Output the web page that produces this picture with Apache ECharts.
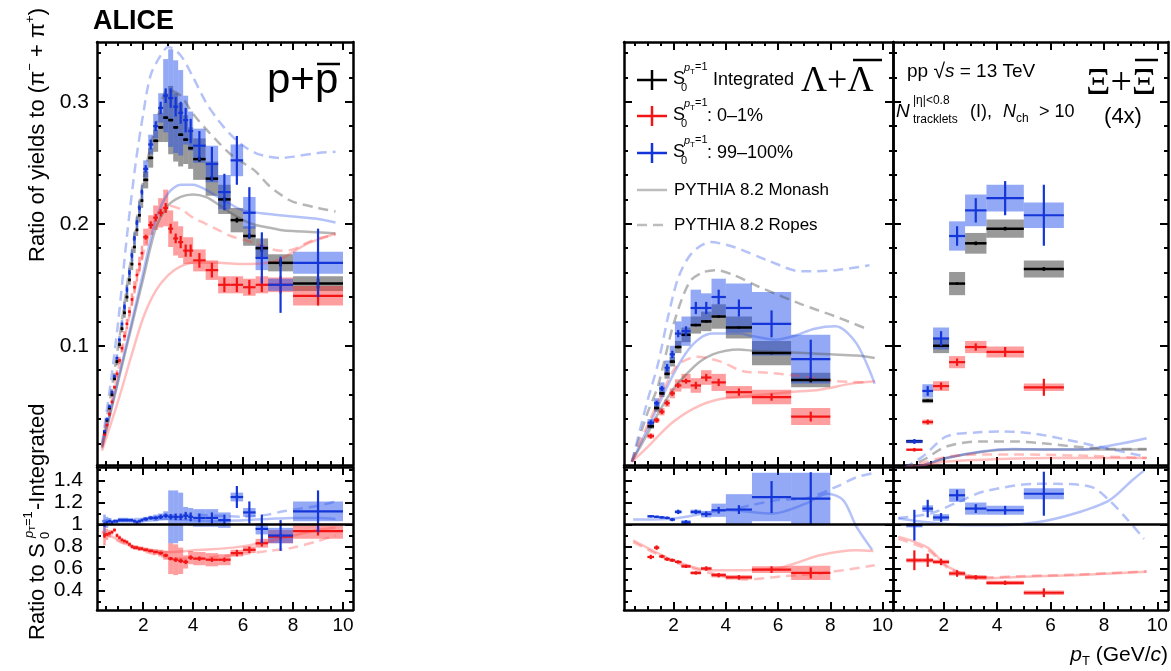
<!DOCTYPE html>
<html><head><meta charset="utf-8">
<script src="https://cdn.jsdelivr.net/npm/echarts@6/dist/echarts.min.js"></script>
<style>html,body{margin:0;padding:0;background:#fff}#c{width:1171px;height:671px}</style>
</head><body><div id="c"></div>
<script>
// ================= DATA =================
// ---- p+pbar / (pi- + pi+) ----
const ppEdges = [0.4,0.5,0.6,0.7,0.8,0.9,1.0,1.1,1.2,1.3,1.4,1.5,1.6,1.7,1.8,1.9,2.0,2.2,2.4,2.6,2.8,3.0,3.2,3.4,3.6,3.8,4.0,4.5,5.0,5.5,6.0,6.5,7.0,8.0,10.0];
const ppInt  = [0.029,0.039,0.049,0.060,0.073,0.087,0.101,0.114,0.127,0.140,0.154,0.167,0.181,0.195,0.207,0.219,0.236,0.254,0.268,0.279,0.287,0.285,0.279,0.273,0.269,0.262,0.253,0.237,0.220,0.203,0.190,0.180,0.168,0.151];
const ppHigh = [0.030,0.040,0.050,0.062,0.075,0.090,0.105,0.118,0.132,0.146,0.160,0.174,0.188,0.201,0.213,0.226,0.245,0.265,0.280,0.295,0.305,0.303,0.296,0.291,0.285,0.276,0.264,0.249,0.226,0.252,0.209,0.172,0.150,0.168];
const ppLow  = [0.027,0.035,0.044,0.054,0.066,0.077,0.088,0.098,0.108,0.118,0.128,0.138,0.148,0.158,0.167,0.176,0.189,0.199,0.205,0.209,0.213,0.196,0.188,0.185,0.178,0.178,0.170,0.162,0.150,0.150,0.148,0.150,0.150,0.141];
const ppIntStat  = [0.001,0.001,0.001,0.001,0.001,0.001,0.001,0.001,0.001,0.001,0.001,0.001,0.001,0.001,0.001,0.001,0.001,0.001,0.001,0.001,0.001,0.001,0.001,0.001,0.001,0.001,0.002,0.002,0.002,0.002,0.002,0.003,0.003,0.004];
const ppHighStat = [0.001,0.001,0.001,0.001,0.001,0.001,0.001,0.001,0.002,0.002,0.002,0.002,0.002,0.002,0.002,0.002,0.003,0.004,0.004,0.005,0.006,0.008,0.008,0.009,0.010,0.010,0.012,0.014,0.015,0.020,0.021,0.021,0.023,0.028];
const ppLowStat  = [0.001,0.001,0.001,0.001,0.001,0.001,0.001,0.001,0.001,0.001,0.001,0.001,0.001,0.001,0.001,0.001,0.002,0.003,0.003,0.003,0.004,0.004,0.004,0.005,0.005,0.005,0.006,0.006,0.006,0.006,0.006,0.006,0.007,0.008];
const ppIntSys  = [0.001,0.001,0.002,0.002,0.002,0.003,0.003,0.003,0.004,0.004,0.004,0.005,0.005,0.005,0.006,0.006,0.007,0.008,0.009,0.012,0.020,0.028,0.028,0.026,0.020,0.017,0.017,0.014,0.012,0.010,0.008,0.008,0.007,0.006];
const ppHighSys = [0.001,0.001,0.002,0.002,0.002,0.003,0.003,0.003,0.004,0.004,0.004,0.005,0.005,0.005,0.006,0.006,0.007,0.008,0.010,0.012,0.030,0.040,0.038,0.035,0.020,0.016,0.014,0.015,0.014,0.013,0.013,0.010,0.005,0.009];
const ppLowSys  = [0.001,0.001,0.002,0.002,0.002,0.003,0.003,0.003,0.004,0.004,0.004,0.005,0.005,0.005,0.006,0.006,0.007,0.008,0.010,0.012,0.015,0.015,0.014,0.013,0.011,0.011,0.009,0.008,0.007,0.007,0.007,0.007,0.006,0.008];
// ratios to integrated
const ppHighR = [1.00,1.02,1.03,1.02,1.03,1.03,1.04,1.04,1.04,1.04,1.04,1.04,1.03,1.02,1.03,1.04,1.05,1.06,1.06,1.07,1.08,1.07,1.07,1.07,1.08,1.07,1.06,1.06,1.04,1.25,1.11,0.96,0.90,1.12];
const ppLowR  = [0.90,0.91,0.92,0.93,0.95,0.90,0.88,0.86,0.85,0.84,0.82,0.80,0.79,0.79,0.78,0.78,0.77,0.76,0.75,0.74,0.72,0.69,0.68,0.67,0.66,0.70,0.69,0.68,0.68,0.74,0.77,0.83,0.89,0.94];
const ppHighRStat = [0.02,0.01,0.01,0.01,0.01,0.01,0.01,0.01,0.01,0.01,0.01,0.01,0.01,0.01,0.01,0.01,0.015,0.015,0.015,0.02,0.02,0.025,0.03,0.03,0.035,0.04,0.04,0.05,0.05,0.10,0.10,0.13,0.14,0.19];
const ppLowRStat  = [0.02,0.01,0.01,0.01,0.01,0.01,0.01,0.01,0.01,0.01,0.01,0.01,0.01,0.01,0.01,0.01,0.01,0.01,0.01,0.015,0.015,0.015,0.02,0.02,0.02,0.02,0.02,0.02,0.02,0.03,0.03,0.03,0.03,0.04];
const ppHighRSys  = [0.09,0.05,0.03,0.02,0.02,0.02,0.02,0.02,0.02,0.02,0.02,0.02,0.02,0.02,0.02,0.02,0.02,0.02,0.03,0.03,0.04,0.24,0.24,0.22,0.08,0.08,0.08,0.08,0.07,0.04,0.04,0.05,0.07,0.09];
const ppLowRSys   = [0.09,0.05,0.03,0.02,0.02,0.02,0.02,0.02,0.02,0.02,0.02,0.02,0.02,0.02,0.02,0.02,0.02,0.02,0.025,0.03,0.04,0.14,0.14,0.12,0.06,0.06,0.06,0.06,0.05,0.03,0.03,0.04,0.06,0.07];
// PYTHIA curves [pT, value]
const ppMonInt  = [[0.35,0.016],[1,0.071],[1.5,0.113],[2,0.155],[2.5,0.196],[3,0.215],[3.5,0.222],[4,0.224],[4.5,0.222],[5,0.216],[5.5,0.209],[6,0.203],[6.5,0.199],[7,0.197],[7.5,0.195],[8,0.194],[9,0.193],[9.7,0.192]];
const ppMonHigh = [[0.35,0.017],[1,0.073],[1.5,0.116],[2,0.16],[2.5,0.203],[3,0.225],[3.5,0.232],[4,0.232],[4.5,0.228],[5,0.222],[5.5,0.216],[6,0.211],[7,0.208],[8,0.206],[9,0.204],[9.7,0.201]];
const ppMonLow  = [[0.35,0.014],[1,0.055],[1.5,0.09],[2,0.123],[2.5,0.145],[3,0.158],[3.5,0.165],[4,0.168],[5,0.168],[6,0.167],[7,0.168],[7.5,0.171],[8,0.177],[8.5,0.183],[9,0.187],[9.7,0.192]];
const ppRopInt  = [[0.35,0.018],[0.7,0.06],[1,0.1],[1.5,0.17],[2,0.235],[2.5,0.28],[3,0.31],[3.5,0.305],[4,0.29],[4.5,0.278],[5,0.267],[5.5,0.257],[6,0.25],[6.5,0.243],[7,0.232],[7.5,0.224],[8,0.218],[9,0.213],[9.7,0.21]];
const ppRopHigh = [[0.35,0.02],[0.7,0.07],[1,0.12],[1.35,0.19],[1.7,0.25],[2,0.29],[2.3,0.322],[2.7,0.338],[3,0.345],[3.5,0.338],[4,0.32],[4.5,0.3],[5,0.285],[5.5,0.273],[6,0.264],[6.5,0.258],[7,0.255],[7.5,0.254],[8,0.255],[9,0.258],[9.7,0.259]];
const ppRopLow  = [[0.35,0.017],[0.7,0.05],[1,0.08],[1.5,0.13],[2,0.175],[2.5,0.205],[3,0.215],[3.5,0.212],[4,0.205],[4.5,0.2],[5,0.195],[5.5,0.19],[6,0.187],[6.5,0.184],[7,0.18],[7.5,0.178],[8,0.179],[8.5,0.184],[9,0.188],[9.7,0.191]];
const ppMonHighR = [[0.35,1.03],[1,1.03],[2,1.03],[3,1.05],[4,1.04],[5,1.03],[6,1.04],[7,1.05],[8,1.06],[9,1.06],[9.7,1.05]];
const ppMonLowR  = [[0.35,0.94],[1,0.86],[1.6,0.8],[3,0.75],[4.3,0.77],[5.6,0.79],[6.7,0.83],[8,0.9],[9,0.95],[9.7,0.97]];
const ppRopHighR = [[0.35,1.03],[1,1.05],[2,1.05],[3,1.08],[4,1.09],[5,1.08],[6,1.07],[7,1.09],[7.6,1.12],[9,1.17],[9.7,1.21]];
const ppRopLowR  = [[0.35,0.93],[1,0.85],[2,0.76],[3,0.7],[4,0.69],[5,0.71],[6,0.73],[7,0.76],[8,0.79],[9,0.85],[9.7,0.9]];

// ---- Lambda + Lambdabar ----
const lamEdges = [1.0,1.25,1.45,1.65,1.85,2.05,2.3,2.65,3.05,3.45,4.0,5.0,6.5,8.0];
const lamInt  = [0.034,0.049,0.061,0.077,0.087,0.099,0.109,0.117,0.120,0.124,0.115,0.094,0.072];
const lamHigh = [0.037,0.053,0.065,0.082,0.093,0.110,0.112,0.131,0.131,0.140,0.131,0.118,0.089];
const lamLow  = [0.026,0.039,0.046,0.053,0.061,0.0675,0.071,0.0675,0.074,0.070,0.062,0.058,0.042];
const lamIntStat  = [0.001,0.001,0.001,0.001,0.001,0.001,0.001,0.001,0.001,0.001,0.001,0.001,0.002];
const lamHighStat = [0.002,0.002,0.002,0.003,0.003,0.003,0.004,0.005,0.005,0.006,0.007,0.011,0.016];
const lamLowStat  = [0.002,0.002,0.002,0.002,0.002,0.002,0.002,0.003,0.003,0.003,0.003,0.003,0.004];
const lamIntSys  = [0.002,0.003,0.003,0.004,0.004,0.005,0.006,0.007,0.008,0.010,0.009,0.010,0.006];
const lamHighSys = [0.003,0.004,0.005,0.006,0.007,0.010,0.012,0.015,0.012,0.015,0.020,0.026,0.020];
const lamLowSys  = [0.002,0.002,0.003,0.003,0.004,0.005,0.006,0.006,0.006,0.007,0.005,0.006,0.007];
const lamHighR = [1.075,1.07,1.065,1.06,1.045,1.115,1.02,1.115,1.094,1.13,1.136,1.25,1.236];
const lamLowR  = [0.705,0.79,0.71,0.685,0.675,0.66,0.62,0.56,0.60,0.54,0.52,0.59,0.56];
const lamHighRStat = [0.01,0.01,0.01,0.012,0.015,0.02,0.02,0.02,0.025,0.03,0.04,0.145,0.24];
const lamLowRStat  = [0.02,0.02,0.015,0.015,0.015,0.015,0.015,0.015,0.02,0.02,0.02,0.03,0.05];
const lamHighRSys  = [0.01,0.01,0.01,0.01,0.01,0.015,0.02,0.02,0.03,0.06,0.14,0.22,0.235];
const lamLowRSys   = [0.01,0.01,0.01,0.01,0.01,0.01,0.015,0.015,0.015,0.02,0.02,0.03,0.065];
const lamMonInt  = [[0.4,0.005],[1,0.028],[1.5,0.048],[2,0.065],[2.5,0.077],[3,0.087],[3.5,0.093],[4,0.096],[4.5,0.097],[5,0.096],[6,0.095],[7,0.094],[8,0.093],[9,0.092],[9.7,0.09]];
const lamMonHigh = [[0.4,0.005],[1,0.032],[1.5,0.055],[2,0.077],[2.5,0.095],[3,0.106],[3.5,0.11],[4,0.11],[4.5,0.11],[5,0.108],[5.9,0.105],[6.6,0.108],[7.4,0.114],[8.2,0.116],[9,0.102],[9.7,0.069]];
const lamMonLow  = [[0.4,0.005],[1,0.017],[1.5,0.028],[2,0.038],[2.8,0.049],[3.7,0.056],[5,0.059],[6.4,0.062],[7.6,0.064],[8.8,0.069],[9.7,0.071]];
const lamRopInt  = [[0.4,0.005],[1,0.045],[1.4,0.067],[2,0.118],[2.6,0.152],[3.1,0.16],[3.6,0.162],[4.3,0.158],[5.2,0.149],[6.9,0.134],[8.2,0.124],[9.5,0.113]];
const lamRopHigh = [[0.4,0.005],[1,0.055],[1.4,0.085],[1.8,0.125],[2.2,0.157],[2.7,0.176],[3.4,0.185],[4.3,0.181],[5.6,0.17],[6.9,0.161],[8.2,0.162],[9.5,0.166]];
const lamRopLow  = [[0.4,0.005],[1,0.035],[1.5,0.058],[2.1,0.083],[2.9,0.091],[3.8,0.087],[4.7,0.079],[5.6,0.078],[6.9,0.075],[8.2,0.071],[9.5,0.07]];
const lamMonHighR = [[0.45,1.045],[2,1.055],[4.1,1.13],[5.8,1.1],[7.06,1.19],[7.9,1.28],[8.5,1.22],[9.0,0.98],[9.6,0.77]];
const lamRopHighR = [[4.5,1.15],[5.9,1.22],[7.1,1.24],[8.2,1.34],[9.0,1.43],[9.7,1.47]];
const lamMonLowR  = [[0.45,0.857],[2,0.675],[3.4,0.585],[4.8,0.585],[6.2,0.615],[7.6,0.72],[9.0,0.766],[9.65,0.76]];
const lamRopLowR  = [[0.45,0.84],[2,0.66],[3.4,0.56],[4.8,0.5],[6.2,0.53],[7.6,0.555],[9.7,0.63]];

// ---- Xi + Xibar (x4) ----
const xiEdges = [0.6,1.2,1.6,2.2,2.8,3.6,5.0,6.5];
const xiInt  = [0.0218,0.055,0.100,0.151,0.184,0.196,0.163];
const xiHigh = [0.0216,0.063,0.106,0.190,0.211,0.221,0.207];
const xiLow  = [0.0148,0.0375,0.067,0.0866,0.099,0.095,0.066];
const xiIntStat  = [0.0008,0.001,0.001,0.001,0.0015,0.0015,0.0015];
const xiHighStat = [0.002,0.004,0.006,0.008,0.010,0.014,0.025];
const xiLowStat  = [0.0015,0.002,0.003,0.003,0.003,0.004,0.007];
const xiIntSys  = [0.001,0.002,0.006,0.0095,0.0085,0.0075,0.007];
const xiHighSys = [0.0015,0.0055,0.009,0.012,0.013,0.011,0.0105];
const xiLowSys  = [0.001,0.002,0.004,0.005,0.005,0.0045,0.003];
const xiHighR = [0.994,1.145,1.064,1.266,1.145,1.13,1.28];
const xiLowR  = [0.675,0.675,0.66,0.555,0.52,0.47,0.38];
const xiHighRStat = [0.14,0.08,0.04,0.05,0.04,0.04,0.2];
const xiLowRStat  = [0.09,0.06,0.03,0.03,0.02,0.02,0.04];
const xiHighRSys  = [0.02,0.03,0.03,0.06,0.055,0.04,0.05];
const xiLowRSys   = [0.02,0.02,0.02,0.02,0.02,0.02,0.02];
const xiMonInt  = [[0.5,0.0],[1.2,0.002],[2.1,0.008],[3.4,0.013],[4.6,0.015],[5.9,0.015],[7.1,0.015],[8.4,0.015],[9.6,0.015]];
const xiMonHigh = [[0.5,0.0],[1.2,0.002],[2.1,0.008],[3.4,0.0134],[4.6,0.0154],[5.9,0.015],[7.1,0.015],[8.4,0.0189],[9.6,0.0243]];
const xiMonLow  = [[0.5,0.0],[1.2,0.002],[2.1,0.0052],[3.4,0.0066],[5.9,0.008],[9.6,0.008]];
const xiRopInt  = [[0.5,0.0],[1.2,0.006],[2.1,0.0175],[3.4,0.0216],[4.6,0.0216],[5.9,0.0197],[7.1,0.017],[8.4,0.0154],[9.6,0.0154]];
const xiRopHigh = [[0.5,0.0],[1.2,0.009],[2.1,0.0257],[3.2,0.029],[4.2,0.0298],[5.4,0.028],[6.6,0.023],[8.1,0.016],[9.6,0.009]];
const xiRopLow  = [[0.5,0.0],[1.2,0.004],[2.1,0.009],[3.4,0.011],[4.6,0.011],[7.1,0.010],[9.6,0.008]];
const xiMonHighR = [[0.3,1.055],[1.4,1.02],[2.8,0.994],[4.1,0.994],[5.5,1.02],[6.9,1.1],[8.2,1.22],[9.05,1.4],[9.5,1.49]];
const xiRopHighR = [[0.3,1.06],[1.5,1.1],[2.5,1.2],[3.5,1.3],[5.5,1.37],[6.2,1.37],[7.55,1.34],[8.2,1.22],[8.9,1.04],[9.5,0.87]];
const xiMonLowR  = [[0.3,0.89],[1.4,0.79],[2.2,0.61],[3.5,0.51],[4.8,0.524],[6.9,0.54],[9.6,0.57]];
const xiRopLowR  = [[0.3,0.87],[1.4,0.77],[2.2,0.6],[3.5,0.52],[4.8,0.53],[6.9,0.545],[9.6,0.575]];

// axis tick values
const xMajorTicks = [2,4,6,8,10];
const yTopMajorTicks = [0.1,0.2,0.3];
const yBotMajorTicks = [0.4,0.6,0.8,1,1.2,1.4];

// ================= STYLE / LAYOUT =================
const F = 'Liberation Sans', FS = 'Liberation Serif';
const C = {
  blue:'#1436d8', red:'#f31515', black:'#000',
  blueBox:'rgba(30,75,235,0.48)', redBox:'rgba(255,40,40,0.45)', greyBox:'rgba(0,0,0,0.40)',
  blueLine:'rgba(40,80,235,0.35)', redLine:'rgba(255,60,60,0.33)', greyLine:'rgba(80,80,80,0.42)'
};
function range(a,b,s){const r=[];for(let v=a;v<=b+1e-9;v+=s)r.push(+v.toFixed(4));return r;}
const grids = [
  {left:97, top:42, width:256, height:423},
  {left:97, top:467, width:256, height:143},
  {left:624, top:42, width:269, height:423},
  {left:624, top:467, width:269, height:143},
  {left:893, top:42, width:275, height:423},
  {left:893, top:467, width:275, height:143}
];
const xr = [[0.15,10.4],[0.15,10.4],[0.1,10.4],[0.1,10.4],[0.1,10.4],[0.1,10.4]];
const yTop = [0.0023,0.349], yBot = [0.223,1.523];
const xMinor = range(0.5,10,0.5);
const yTopMinor = range(0.02,0.34,0.02);
const yBotMinor = range(0.3,1.5,0.1);

const xAxes=[], yAxes=[];
grids.forEach((g,i)=>{
  const bot = i%2===1;
  const yr = bot?yBot:yTop;
  const yMaj = bot?yBotMajorTicks:yTopMajorTicks, yMin = bot?yBotMinor:yTopMinor;
  ['bottom','top'].forEach(pos=>{[true,false].forEach(maj=>{
    xAxes.push({type:'value',gridIndex:i,position:pos,min:xr[i][0],max:xr[i][1],
      axisLine:{show:maj,onZero:false,lineStyle:{color:'#000',width:2.5}},
      axisTick:{show:true,inside:true,length:maj?8:4,customValues:maj?xMajorTicks:xMinor,lineStyle:{color:'#000',width:2}},
      axisLabel:{show:maj&&pos==='bottom'&&bot,customValues:xMajorTicks,fontSize:19,fontFamily:F,color:'#000',margin:6,hideOverlap:false},
      splitLine:{show:false}});
  });});
  ['left','right'].forEach(pos=>{[true,false].forEach(maj=>{
    yAxes.push({type:'value',gridIndex:i,position:pos,min:yr[0],max:yr[1],
      axisLine:{show:maj,onZero:false,lineStyle:{color:'#000',width:2.5}},
      axisTick:{show:true,inside:true,length:maj?8:4,customValues:maj?yMaj:yMin,lineStyle:{color:'#000',width:2}},
      axisLabel:{show:maj&&pos==='left'&&i<2,customValues:yMaj,fontSize:21,fontFamily:F,color:'#000',margin:bot?14:8,hideOverlap:false,
        formatter:v=>Math.abs(v-1)<1e-9?'1':v.toFixed(1)},
      splitLine:{show:false}});
  });});
});

function rows(edges, vals, errs){return vals.map((v,i)=>[edges[i],edges[i+1],v,errs[i]]);}
function boxS(g, edges, vals, sys, fill){
  return {type:'custom',xAxisIndex:4*g,yAxisIndex:4*g,data:rows(edges,vals,sys),encode:{x:[0,1],y:2},clip:true,z:2,silent:true,
    renderItem:(p,api)=>{const a=api.coord([api.value(0),api.value(2)+api.value(3)]);const b=api.coord([api.value(1),api.value(2)-api.value(3)]);
      return {type:'rect',shape:{x:a[0],y:a[1],width:b[0]-a[0],height:b[1]-a[1]},style:{fill:fill}};}};
}
function crossS(g, edges, vals, stat, color, lw){
  return {type:'custom',xAxisIndex:4*g,yAxisIndex:4*g,data:rows(edges,vals,stat),encode:{x:[0,1],y:2},clip:true,z:4,silent:true,
    renderItem:(p,api)=>{const lo=api.value(0),hi=api.value(1),v=api.value(2),e=api.value(3),xc=(lo+hi)/2;
      const L=api.coord([lo,v]),R=api.coord([hi,v]),T=api.coord([xc,v+e]),B=api.coord([xc,v-e]);
      return {type:'group',children:[
        {type:'line',shape:{x1:L[0],y1:L[1],x2:R[0],y2:R[1]},style:{stroke:color,lineWidth:lw}},
        {type:'line',shape:{x1:T[0],y1:T[1],x2:B[0],y2:B[1]},style:{stroke:color,lineWidth:lw}}]};}};
}
function curveS(g, pts, color, dashed, extra){
  return Object.assign({type:'line',xAxisIndex:4*g,yAxisIndex:4*g,data:pts,smooth:0.3,showSymbol:false,symbol:'none',silent:true,z:3,
    lineStyle:{color:color,width:2.5,type:dashed?[10,6]:'solid'}},extra||{});
}
const oneLine = {markLine:{silent:true,symbol:'none',animation:false,label:{show:false},lineStyle:{color:'#000',width:2.5,type:'solid'},data:[{yAxis:1}]}};

const series = [
  // p+pbar top
  boxS(0,ppEdges,ppInt,ppIntSys,C.greyBox), boxS(0,ppEdges,ppLow,ppLowSys,C.redBox), boxS(0,ppEdges,ppHigh,ppHighSys,C.blueBox),
  curveS(0,ppMonInt,C.greyLine,false), curveS(0,ppMonHigh,C.blueLine,false), curveS(0,ppMonLow,C.redLine,false),
  curveS(0,ppRopInt,C.greyLine,true), curveS(0,ppRopHigh,C.blueLine,true), curveS(0,ppRopLow,C.redLine,true),
  crossS(0,ppEdges,ppInt,ppIntStat,C.black,2.5), crossS(0,ppEdges,ppLow,ppLowStat,C.red,2.2), crossS(0,ppEdges,ppHigh,ppHighStat,C.blue,2.2),
  // p+pbar ratio
  boxS(1,ppEdges,ppLowR,ppLowRSys,C.redBox), boxS(1,ppEdges,ppHighR,ppHighRSys,C.blueBox),
  curveS(1,ppMonHighR,C.blueLine,false,oneLine), curveS(1,ppMonLowR,C.redLine,false), curveS(1,ppRopHighR,C.blueLine,true), curveS(1,ppRopLowR,C.redLine,true),
  crossS(1,ppEdges,ppLowR,ppLowRStat,C.red,2.2), crossS(1,ppEdges,ppHighR,ppHighRStat,C.blue,2.2),
  // Lambda top
  boxS(2,lamEdges,lamInt,lamIntSys,C.greyBox), boxS(2,lamEdges,lamLow,lamLowSys,C.redBox), boxS(2,lamEdges,lamHigh,lamHighSys,C.blueBox),
  curveS(2,lamMonInt,C.greyLine,false), curveS(2,lamMonHigh,C.blueLine,false), curveS(2,lamMonLow,C.redLine,false),
  curveS(2,lamRopInt,C.greyLine,true), curveS(2,lamRopHigh,C.blueLine,true), curveS(2,lamRopLow,C.redLine,true),
  crossS(2,lamEdges,lamInt,lamIntStat,C.black,2.5), crossS(2,lamEdges,lamLow,lamLowStat,C.red,2.2), crossS(2,lamEdges,lamHigh,lamHighStat,C.blue,2.2),
  // Lambda ratio
  boxS(3,lamEdges,lamLowR,lamLowRSys,C.redBox), boxS(3,lamEdges,lamHighR,lamHighRSys,C.blueBox),
  curveS(3,lamMonHighR,C.blueLine,false,oneLine), curveS(3,lamMonLowR,C.redLine,false), curveS(3,lamRopHighR,C.blueLine,true), curveS(3,lamRopLowR,C.redLine,true),
  crossS(3,lamEdges,lamLowR,lamLowRStat,C.red,2.2), crossS(3,lamEdges,lamHighR,lamHighRStat,C.blue,2.2),
  // Xi top
  boxS(4,xiEdges,xiInt,xiIntSys,C.greyBox), boxS(4,xiEdges,xiLow,xiLowSys,C.redBox), boxS(4,xiEdges,xiHigh,xiHighSys,C.blueBox),
  curveS(4,xiMonInt,C.greyLine,false), curveS(4,xiMonHigh,C.blueLine,false), curveS(4,xiMonLow,C.redLine,false),
  curveS(4,xiRopInt,C.greyLine,true), curveS(4,xiRopHigh,C.blueLine,true), curveS(4,xiRopLow,C.redLine,true),
  crossS(4,xiEdges,xiInt,xiIntStat,C.black,2.5), crossS(4,xiEdges,xiLow,xiLowStat,C.red,2.2), crossS(4,xiEdges,xiHigh,xiHighStat,C.blue,2.2),
  // Xi ratio
  boxS(5,xiEdges,xiLowR,xiLowRSys,C.redBox), boxS(5,xiEdges,xiHighR,xiHighRSys,C.blueBox),
  curveS(5,xiMonHighR,C.blueLine,false,oneLine), curveS(5,xiMonLowR,C.redLine,false), curveS(5,xiRopHighR,C.blueLine,true), curveS(5,xiRopLowR,C.redLine,true),
  crossS(5,xiEdges,xiLowR,xiLowRStat,C.red,2.2), crossS(5,xiEdges,xiHighR,xiHighRStat,C.blue,2.2)
];

// ================= TEXT / LEGEND =================
function T(x,y,text,size,opt){return {type:'text',x:x,y:y,silent:true,z:10,style:Object.assign({text:text,fontSize:size,fontFamily:F,fill:'#000',
  textAlign:'left',textVerticalAlign:'middle',align:'left',verticalAlign:'middle'},opt||{})};}
function L(x1,y1,x2,y2,color,w,dash){return {type:'line',silent:true,z:10,shape:{x1:x1,y1:y1,x2:x2,y2:y2},style:{stroke:color,lineWidth:w,lineDash:dash||null}};}
const graphic = [
  T(93,22,'ALICE',27,{fontWeight:'bold'}),
  T(267,81,'p+p',42), L(317,64,340,64,'#000',2.5),
  T(801,82,'Λ+Λ',36,{fontFamily:FS}), L(853,60,882,60,'#000',2.5),
  T(1086,84,'Ξ+Ξ',38,{fontFamily:FS}), L(1135,60,1158,60,'#000',2.5),
  T(1123,117,'(4x)',22,{textAlign:'center',align:'center'}),
  {type:'text',x:907,y:72,silent:true,z:10,style:{text:'{a|pp }{r|√}{i|s}{a| = 13 TeV}',textVerticalAlign:'middle',verticalAlign:'middle',
    rich:{a:{fontSize:19,fontFamily:F,fill:'#000'},r:{fontSize:21,fontFamily:F,fill:'#000'},i:{fontSize:19,fontFamily:F,fontStyle:'italic',fill:'#000'}}}},
  T(896,112,'N',19,{fontStyle:'italic'}), T(913,101,'|η|<0.8',12), T(913,120,'tracklets',12),
  T(970,112,'(I),',18), T(1003,112,'N',18,{fontStyle:'italic'}), T(1016,119,'ch',12), T(1039,112,'> 10',18),
  // x title
  {type:'text',x:1168,y:655,silent:true,z:10,style:{text:'{i|p}{s|T}{a| (GeV/}{i|c}{a|)}',textAlign:'right',align:'right',textVerticalAlign:'middle',verticalAlign:'middle',
    rich:{a:{fontSize:21,fontFamily:F,lineHeight:26,fill:'#000'},i:{fontSize:21,fontFamily:F,fontStyle:'italic',lineHeight:26,fill:'#000'},
      s:{fontSize:13,fontFamily:F,lineHeight:13,verticalAlign:'bottom',fill:'#000'}}}},
  // y titles
  {type:'group',x:38,y:262,rotation:Math.PI/2,children:[
    {type:'text',silent:true,style:{text:'{a|Ratio of yields to (π}{s|−}{a| + π}{s|+}{a|)}',textAlign:'left',align:'left',textVerticalAlign:'middle',verticalAlign:'middle',
      rich:{a:{fontSize:22,fontFamily:F,lineHeight:28,fill:'#000'},s:{fontSize:13,fontFamily:F,lineHeight:13,verticalAlign:'top',fill:'#000'}}}}]},
  {type:'group',x:38,y:640,rotation:Math.PI/2,children:[
    T(0,0,'Ratio to S',22), T(101,7,'0',13), T(102,-9,'p',13,{fontStyle:'italic'}), T(109,-5,'T',9), T(114,-10,'=1',13), T(130,0,'-Integrated',22)]}
];
// legend
const legendRows = [{y:80,c:C.black,t:'Integrated',tx:713},{y:116,c:C.red,t:': 0–1%',tx:707},{y:153,c:C.blue,t:': 99–100%',tx:707}];
legendRows.forEach(r=>{
  graphic.push(L(637,r.y,667,r.y,r.c,2.5), L(652,r.y-10,652,r.y+10,r.c,2.5));
  graphic.push(T(673,r.y-1,'S',18), T(681,r.y+8,'0',11), T(684,r.y-12,'p',11,{fontStyle:'italic'}), T(690,r.y-8,'T',8), T(695,r.y-13,'=1',11));
  graphic.push(T(r.tx,r.y,r.t,18));
});
graphic.push(L(637,190,667,190,'#bdbdbd',2.5), T(674,190,'PYTHIA 8.2 Monash',17));
graphic.push(L(637,225,667,225,'#bdbdbd',2.5,[10,6]), T(674,225,'PYTHIA 8.2 Ropes',17));

const chart = echarts.init(document.getElementById('c'), null, {renderer:'canvas'});
chart.setOption({animation:false, backgroundColor:'#fff', grid:grids, xAxis:xAxes, yAxis:yAxes, series:series, graphic:graphic});
</script></body></html>
